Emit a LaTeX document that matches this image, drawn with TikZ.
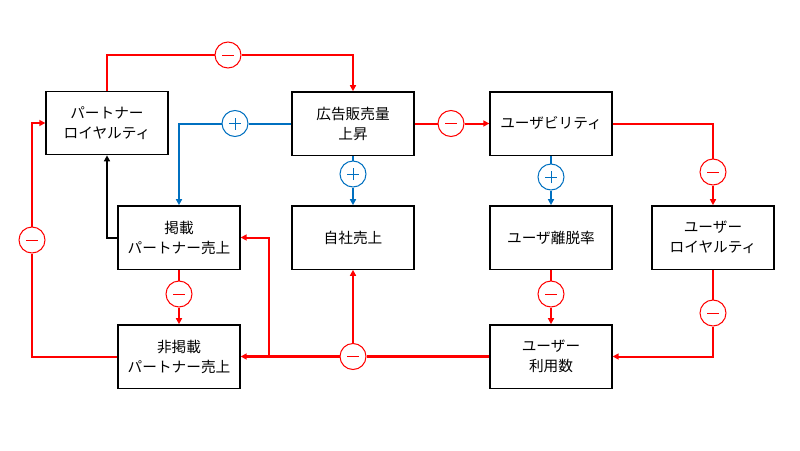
\documentclass[tikz,border=0pt]{standalone}
\usepackage{fontspec}
\newfontfamily\jp{Noto Sans CJK JP}
\usetikzlibrary{arrows.meta}
\definecolor{rd}{RGB}{255,0,0}
\definecolor{bl}{RGB}{0,112,192}
\begin{document}
\begin{tikzpicture}[x=0.75pt,y=-0.75pt,
 box/.style={draw, line width=1pt, fill=white, minimum width=91.5pt, minimum height=47.5pt, align=center, font=\jp\fontsize{11pt}{15pt}\selectfont, inner sep=0pt},
 sgn/.style={circle, draw, fill=white, line width=0.75pt, minimum size=19.5pt, inner sep=0pt},
 minus/.style={sgn, draw=rd, path picture={\draw[rd,line width=0.75pt] ([xshift=-4.5pt]path picture bounding box.center) -- ([xshift=4.5pt]path picture bounding box.center);}},
 plus/.style={sgn, draw=bl, path picture={\draw[bl,line width=0.75pt] ([xshift=-4.5pt]path picture bounding box.center) -- ([xshift=4.5pt]path picture bounding box.center) ([yshift=-4.5pt]path picture bounding box.center) -- ([yshift=4.5pt]path picture bounding box.center);}},
 rl/.style={draw=rd, line width=1.5pt},
 rthick/.style={draw=rd, line width=2.25pt},
 bline/.style={draw=bl, line width=1.5pt},
 kl/.style={draw=black, line width=1.5pt},
 arr/.style={-{Triangle[length=4.5pt,width=4.5pt]}}
]
\useasboundingbox (0,0) rectangle (800,450);
% boxes
\node[box] (pl) at (107,123) {パートナー\\ロイヤルティ};
\node[box] (ad) at (353,123.5) {広告販売量\\上昇};
\node[box] (us) at (551,123.5) {ユーザビリティ};
\node[box] (kp) at (179,237.5) {掲載\\パートナー売上};
\node[box] (js) at (353,237.5) {自社売上};
\node[box] (ur) at (551,237.5) {ユーザ離脱率};
\node[box] (ul) at (713,237.5) {ユーザー\\ロイヤルティ};
\node[box] (np) at (179,356.5) {非掲載\\パートナー売上};
\node[box] (un) at (551,356.5) {ユーザー\\利用数};
% signs
\node[minus] (m1) at (228,55) {};
\node[plus] (p1) at (235,123.5) {};
\node[plus] (p2) at (353,174) {};
\node[minus] (m2) at (451,123.5) {};
\node[minus] (m3) at (713,172) {};
\node[plus] (p3) at (551,177) {};
\node[minus] (m4) at (551,294) {};
\node[minus] (m5) at (713,313) {};
\node[minus] (m6) at (353,356.5) {};
\node[minus] (m7) at (179,294) {};
\node[minus] (m8) at (32,240) {};
\coordinate (j1) at (269,356.5);
% connectors
\draw[rl] (pl.north) |- (m1);
\draw[rl,arr] (m1) -| (ad.north);
\draw[bline] (ad.west) -- (p1);
\draw[bline,arr] (p1) -| (kp.north);
\draw[bline] (ad.south) -- (p2);
\draw[bline,arr] (p2) -- (js.north);
\draw[rl] (ad.east) -- (m2);
\draw[rl,arr] (m2) -- (us.west);
\draw[rl] (us.east) -| (m3);
\draw[rl,arr] (m3) -- (ul.north);
\draw[bline] (us.south) -- (p3);
\draw[bline,arr] (p3) -- (ur.north);
\draw[rl] (ur.south) -- (m4);
\draw[rl,arr] (m4) -- (un.north);
\draw[rl] (ul.south) -- (m5);
\draw[rl,arr] (m5) |- (un.east);
\draw[rthick] (un.west) -- (m6);
\draw[rthick,arr] (m6) -- (np.east);
\draw[rl,arr] (j1) |- (kp.east);
\draw[rl,arr] (m6) -- (js.south);
\draw[rl] (kp.south) -- (m7);
\draw[rl,arr] (m7) -- (np.north);
\draw[rl] (np.west) -| (m8);
\draw[rl,arr] (m8) |- (pl.west);
\draw[kl,arr] (kp.west) -| (pl.south);
\end{tikzpicture}
\end{document}
